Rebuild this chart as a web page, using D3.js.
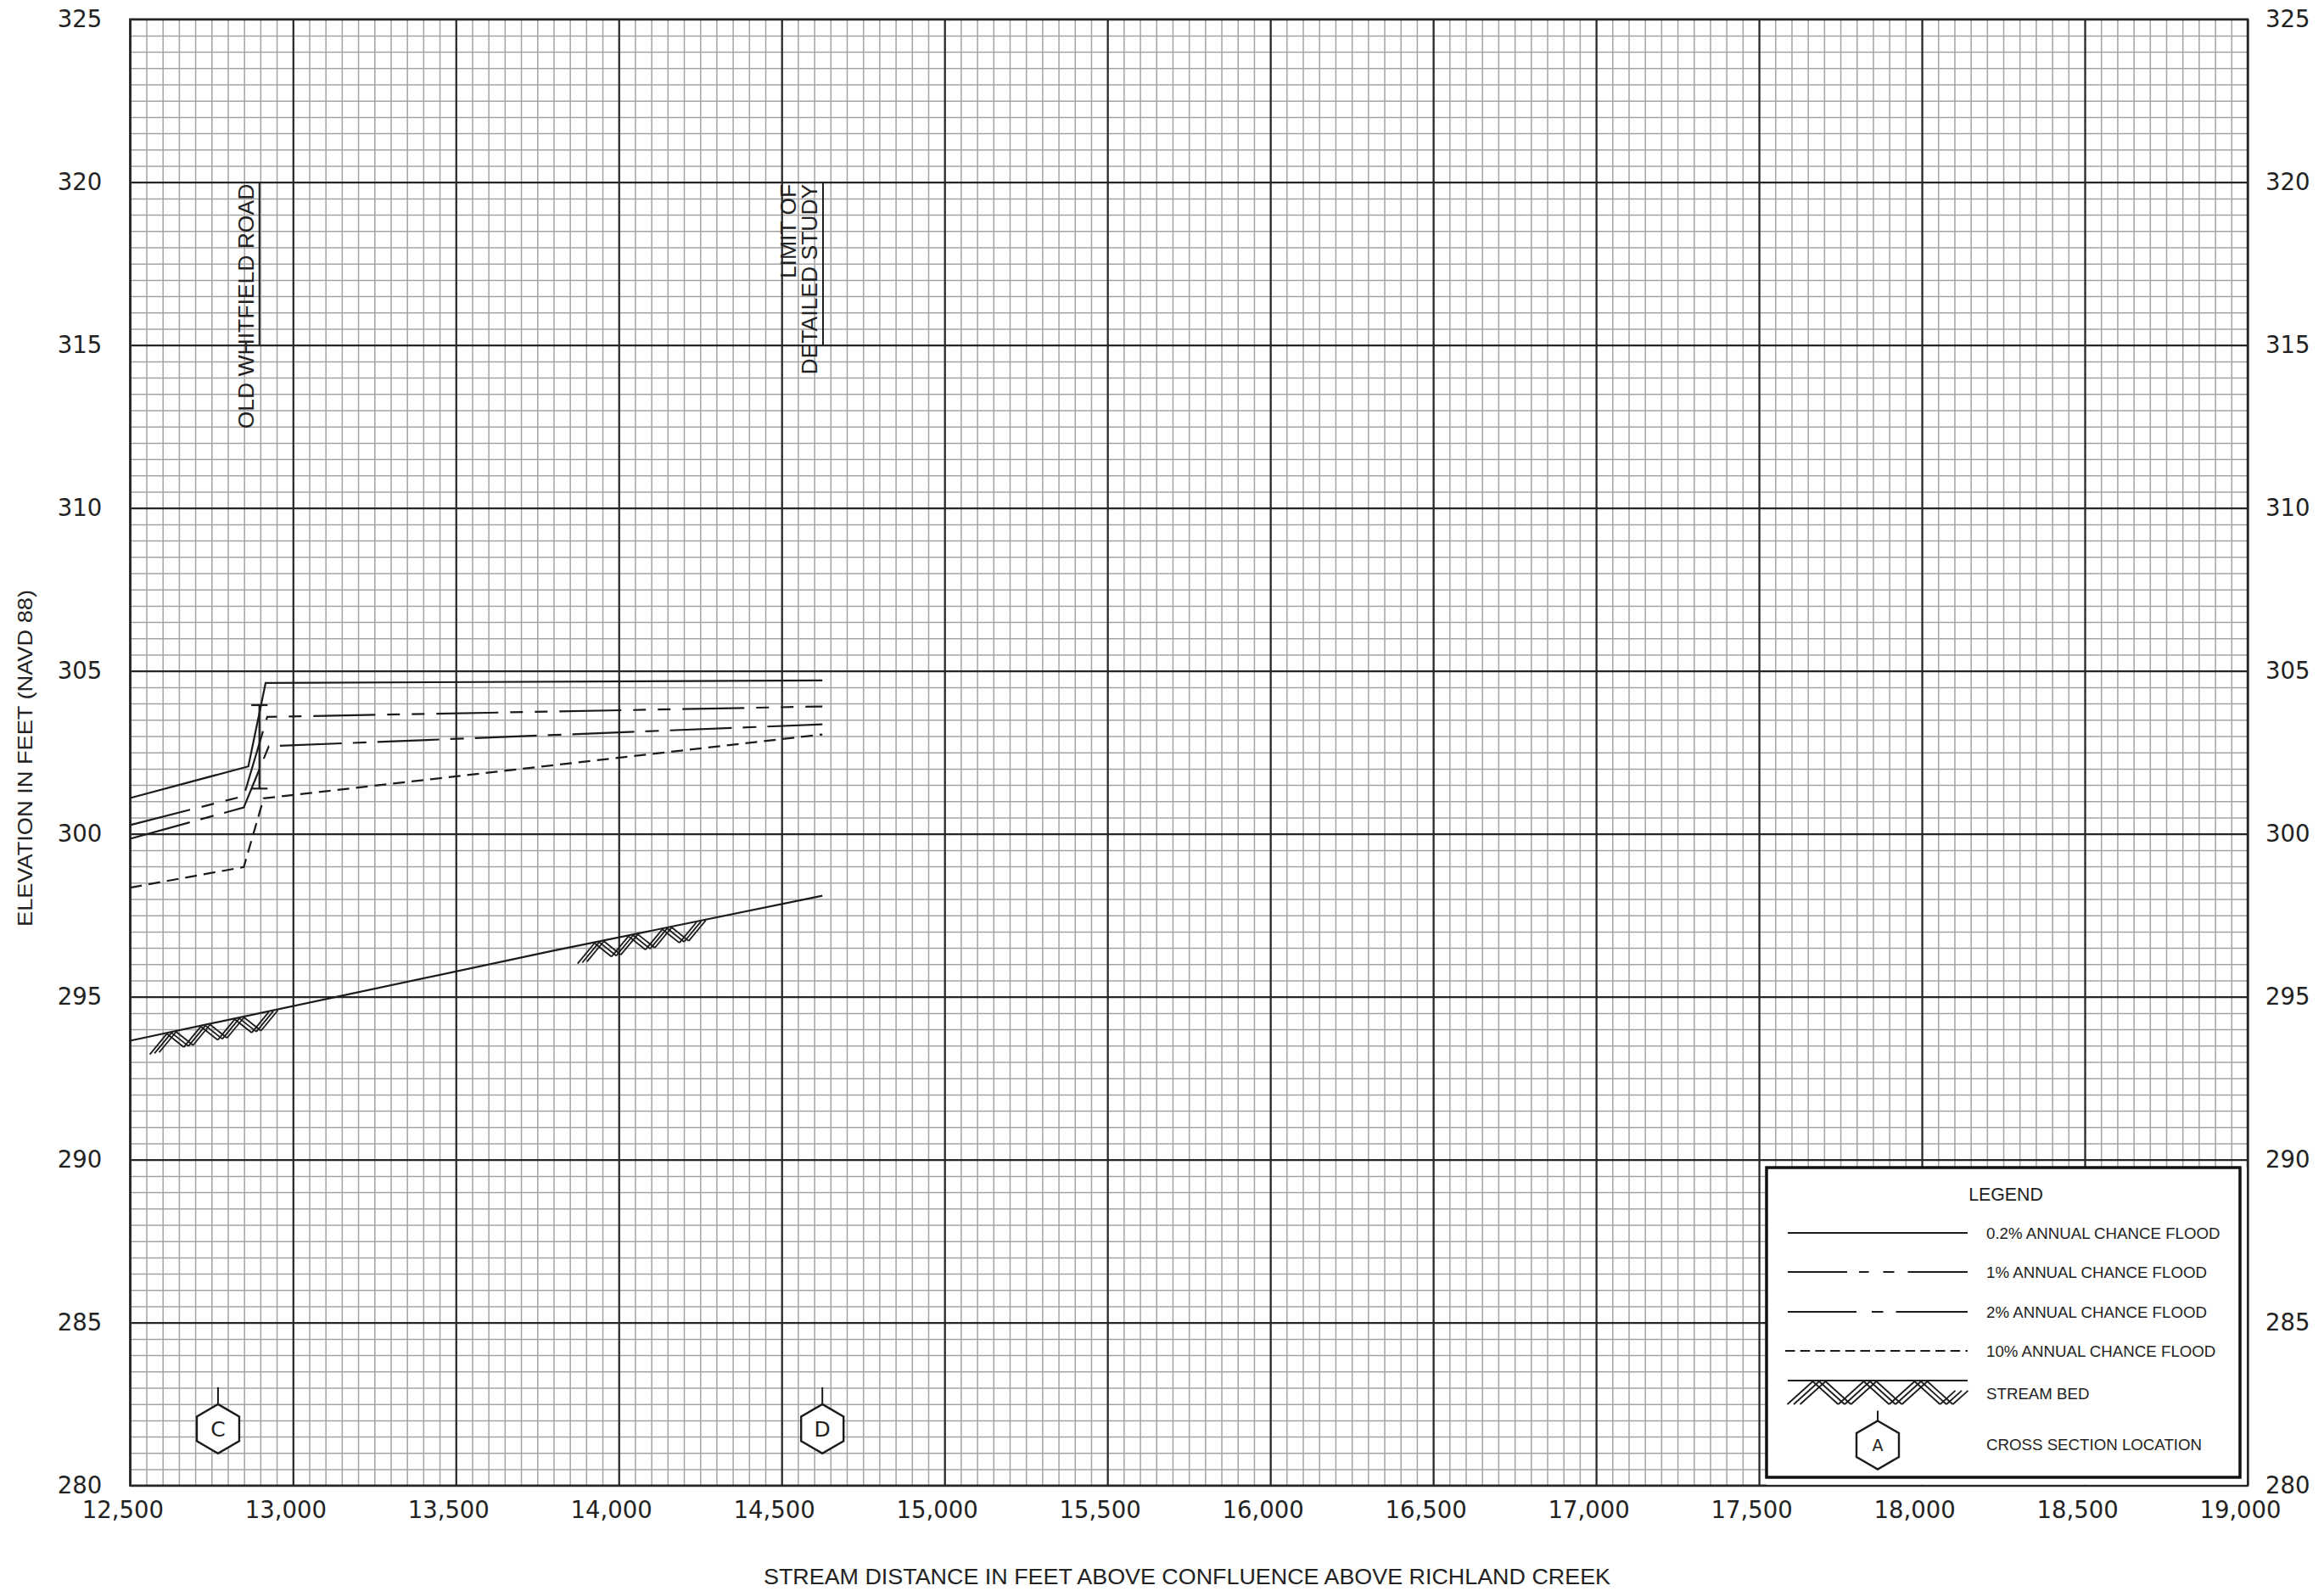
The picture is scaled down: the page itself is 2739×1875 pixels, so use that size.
<!DOCTYPE html>
<html><head><meta charset="utf-8">
<script src="https://cdn.jsdelivr.net/npm/d3@7"></script>
<style>body{margin:0;background:#fff}</style>
</head><body>
<svg id="c" width="2739" height="1875" xmlns="http://www.w3.org/2000/svg"></svg>
<script>
// ---------- data ----------
const xTicks = [12500,13000,13500,14000,14500,15000,15500,16000,16500,17000,17500,18000,18500,19000];
const yTicks = [280,285,290,295,300,305,310,315,320,325];
const flood02 = [[12500,301.10],[12863,302.07],[12916,304.63],[14625,304.71]];
const flood1  = [[12500,300.27],[12849,301.16],[12921,303.59],[14625,303.91]];
const flood2  = [[12500,299.85],[12849,300.81],[12926,302.69],[14625,303.36]];
const flood10 = [[12500,298.35],[12849,298.98],[12910,301.09],[14625,303.05]];
const streamBed = [[12500,293.65],[13793,296.40],[14625,298.10]];
const bedHatch = [[12575,12940],[13888,14253]];
const crossSections = [{id:"C", x:12770},{id:"D", x:14625}];
const roadDeck = {x:12897, low:301.39, high:303.95};
const annotations = [
  {x:12897, lines:["OLD WHITFIELD ROAD"]},
  {x:14627, lines:["LIMIT OF","DETAILED STUDY"]}
];
const legendItems = [
  {label:"0.2% ANNUAL CHANCE FLOOD", type:"line", dash:null},
  {label:"1% ANNUAL CHANCE FLOOD", type:"line", dash:"70,14,11.5,17,13,16,90"},
  {label:"2% ANNUAL CHANCE FLOOD", type:"line", dash:"81,18,13.5,15,90"},
  {label:"10% ANNUAL CHANCE FLOOD", type:"line", dash:"11.5,6.2"},
  {label:"STREAM BED", type:"bed"},
  {label:"CROSS SECTION LOCATION", type:"xs"}
];
const xTitle = "STREAM DISTANCE IN FEET ABOVE CONFLUENCE ABOVE RICHLAND CREEK";
const yTitle = "ELEVATION IN FEET (NAVD 88)";

// ---------- layout ----------
const PL=153.3, PR=2649, PT=22.7, PB=1750.7;
const x = d3.scaleLinear().domain([12500,19000]).range([PL,PR]);
const y = d3.scaleLinear().domain([280,325]).range([PB,PT]);
const svg = d3.select("#c");
const INK = "#1b1b1b";
const numFont = "'DejaVu Sans', sans-serif";
const txtFont = "'Liberation Sans', Arial, sans-serif";

svg.append("rect").attr("width",2739).attr("height",1875).attr("fill","#fff");

// minor grid
const minorX = d3.range(12500, 19001, 50);
const minorY = d3.range(280, 325.01, 0.5);
const gMinX = svg.append("g").attr("transform",`translate(0,${PB})`)
  .call(d3.axisBottom(x).tickValues(minorX).tickSize(-(PB-PT)).tickFormat(""));
const gMinY = svg.append("g").attr("transform",`translate(${PL},0)`)
  .call(d3.axisLeft(y).tickValues(minorY).tickSize(-(PR-PL)).tickFormat(""));
[gMinX,gMinY].forEach(g=>{
  g.select(".domain").remove();
  g.selectAll("line").attr("stroke","#a3a3a3").attr("stroke-width",1.5);
});
// major grid
const gMajX = svg.append("g").attr("transform",`translate(0,${PB})`)
  .call(d3.axisBottom(x).tickValues(xTicks).tickSize(-(PB-PT)).tickFormat(""));
const gMajY = svg.append("g").attr("transform",`translate(${PL},0)`)
  .call(d3.axisLeft(y).tickValues(yTicks).tickSize(-(PR-PL)).tickFormat(""));
[gMajX,gMajY].forEach(g=>{
  g.select(".domain").remove();
  g.selectAll("line").attr("stroke","#262626").attr("stroke-width",2.2);
});
svg.append("rect").attr("x",PL).attr("y",PT).attr("width",PR-PL).attr("height",PB-PT)
  .attr("fill","none").attr("stroke","#262626").attr("stroke-width",2.4);

// tick labels
function styleLabels(g){
  g.select(".domain").remove();
  g.selectAll("text").attr("font-family",numFont).attr("font-size",27.5).attr("fill","#222");
}
const axL = svg.append("g").attr("transform",`translate(${PL},0)`)
  .call(d3.axisLeft(y).tickValues(yTicks).tickSize(0).tickPadding(33).tickFormat(d3.format("d")));
styleLabels(axL);
const axR = svg.append("g").attr("transform",`translate(${PR},0)`)
  .call(d3.axisRight(y).tickValues(yTicks).tickSize(0).tickPadding(21).tickFormat(d3.format("d")));
styleLabels(axR);
const axB = svg.append("g").attr("transform",`translate(0,${PB})`)
  .call(d3.axisBottom(x).tickValues(xTicks).tickSize(0).tickPadding(19).tickFormat(d3.format(",")));
styleLabels(axB);
axB.selectAll("text").attr("x",-9);

// axis titles
svg.append("text").attr("x",1399).attr("y",1867).attr("text-anchor","middle")
  .attr("font-family",txtFont).attr("font-size",26).attr("fill","#222")
  .attr("textLength",998).attr("lengthAdjust","spacingAndGlyphs").text(xTitle);
svg.append("text").attr("transform",`translate(38,${893.5}) rotate(-90)`).attr("text-anchor","middle")
  .attr("font-family",txtFont).attr("font-size",24).attr("fill","#222")
  .attr("textLength",397).attr("lengthAdjust","spacingAndGlyphs").text(yTitle);

// ---------- profiles ----------
const line = d3.line().x(d=>x(d[0])).y(d=>y(d[1]));
const profiles = [
  {data:flood10, dash:"14,8"},
  {data:flood2, dash:"73,13,16,13"},
  {data:flood1, dash:"73,14,15,14,15,14"},
  {data:flood02, dash:null}
];
profiles.forEach(p=>{
  svg.append("path").attr("d",line(p.data)).attr("fill","none")
    .attr("stroke",INK).attr("stroke-width",2.2)
    .attr("stroke-dasharray",p.dash);
});
svg.append("path").attr("d",line(streamBed)).attr("fill","none").attr("stroke",INK).attr("stroke-width",2.2);

// stream bed hatch (herringbone zig-zag of triple strokes)
const bedInterp = d3.scaleLinear().domain(streamBed.map(d=>d[0])).range(streamBed.map(d=>d[1]));
function hatch(g, X0, X1, topY, P, D, n, s){
  const h = P/2;
  let k = 0;
  for(let u=X0; u < X1-0.5; u+=h, k++){
    const ub = Math.min(u+h, X1);
    const va = (k%2===0)? D : 0;
    const vEnd = (k%2===0)? 0 : D;
    const vb = va + (vEnd-va)*(ub-u)/h;
    for(let j=0;j<n;j++){
      const o = (j-(n-1)/2)*s;
      g.append("line")
        .attr("x1",u+o).attr("y1",topY(u+o)+va)
        .attr("x2",ub+o).attr("y2",topY(ub+o)+vb)
        .attr("stroke",INK).attr("stroke-width",1.8);
    }
  }
}
const gH = svg.append("g");
bedHatch.forEach(r=>{
  hatch(gH, x(r[0]), x(r[1]), X=>y(bedInterp(x.invert(X)))+1, 40, 20, 3, 5.5);
});

// road deck symbol
const rd = svg.append("g").attr("stroke",INK).attr("stroke-width",2.2);
rd.append("line").attr("x1",x(roadDeck.x)).attr("x2",x(roadDeck.x)).attr("y1",y(roadDeck.low)).attr("y2",y(roadDeck.high));
[roadDeck.low, roadDeck.high].forEach(v=>{
  rd.append("line").attr("x1",x(roadDeck.x)-9.6).attr("x2",x(roadDeck.x)+9.6).attr("y1",y(v)).attr("y2",y(v));
});

// annotations
annotations.forEach(a=>{
  const ax = x(a.x);
  svg.append("line").attr("x1",ax).attr("x2",ax).attr("y1",y(320)).attr("y2",y(315))
    .attr("stroke",INK).attr("stroke-width",2);
  a.lines.forEach((t,i)=>{
    const bx = ax - 7 - (a.lines.length-1-i)*25;
    svg.append("text").attr("transform",`translate(${bx},${y(320)+2}) rotate(-90)`)
      .attr("text-anchor","end").attr("font-family",txtFont).attr("font-size",26.5)
      .attr("fill","#222").text(t);
  });
});

// cross-section markers
function hexMarker(g, cx, cy, hw, hh, sideH, stem, label, fs){
  const pts = [[cx,cy-hh],[cx+hw,cy-sideH],[cx+hw,cy+sideH],[cx,cy+hh],[cx-hw,cy+sideH],[cx-hw,cy-sideH]];
  g.append("line").attr("x1",cx).attr("x2",cx).attr("y1",cy-hh-stem).attr("y2",cy-hh)
    .attr("stroke",INK).attr("stroke-width",2);
  g.append("polygon").attr("points",pts.map(p=>p.join(",")).join(" "))
    .attr("fill","#fff").attr("stroke",INK).attr("stroke-width",2.4);
  g.append("text").attr("x",cx).attr("y",cy).attr("dy","0.36em").attr("text-anchor","middle")
    .attr("font-family",numFont).attr("font-size",fs).attr("fill","#222").text(label);
}
crossSections.forEach(c=>{
  hexMarker(svg, x(c.x), y(281.74), 25, 29, 14.5, 20, c.id, 25);
});

// ---------- legend ----------
const LX=2082, LY=1376;
svg.append("rect").attr("x",LX).attr("y",LY).attr("width",PR-LX-1).attr("height",PB-LY-1).attr("fill","#fff");
svg.append("rect").attr("x",LX).attr("y",LY).attr("width",558).attr("height",365)
  .attr("fill","#fff").attr("stroke","#111").attr("stroke-width",3.5);
svg.append("text").attr("x",2364).attr("y",1415).attr("text-anchor","middle")
  .attr("font-family",txtFont).attr("font-size",21.3).attr("fill","#222").text("LEGEND");
const rowY = [1453,1499,1546,1592,1642,1702];
const gL = svg.append("g");
legendItems.forEach((it,i)=>{
  const cy = rowY[i];
  if(it.type==="line"){
    const x0 = (i===3) ? 2104 : 2107;
    gL.append("line").attr("x1",x0).attr("x2",2319).attr("y1",cy).attr("y2",cy)
      .attr("stroke",INK).attr("stroke-width",2.2).attr("stroke-dasharray",it.dash);
  } else if(it.type==="bed"){
    gL.append("line").attr("x1",2107).attr("x2",2319).attr("y1",1627).attr("y2",1627)
      .attr("stroke",INK).attr("stroke-width",2.2);
    hatch(gL, 2114, 2312, ()=>1628, 60, 27, 3, 7.5);
  } else {
    hexMarker(gL, 2213, 1703, 25, 28.5, 14, 12, "A", 19);
  }
  gL.append("text").attr("x",2341).attr("y",cy).attr("dy","0.36em")
    .attr("font-family",txtFont).attr("font-size",18.7).attr("fill","#222").text(it.label);
});
</script>
</body></html>
